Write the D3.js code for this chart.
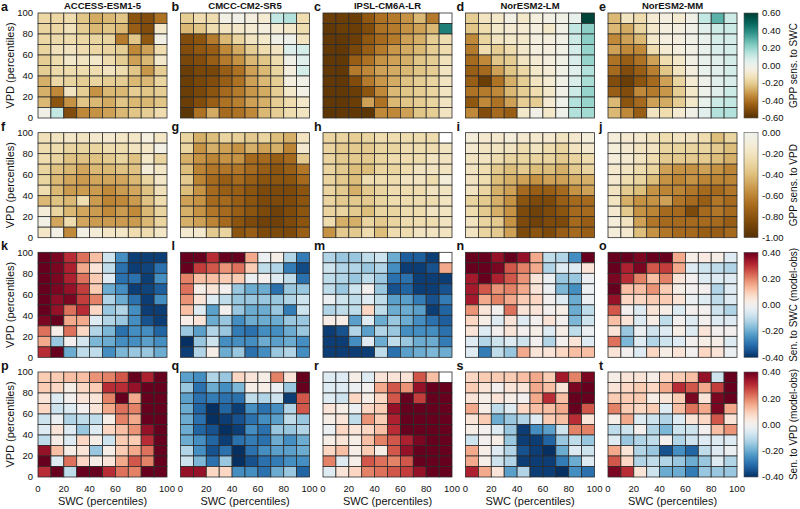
<!DOCTYPE html>
<html>
<head>
<meta charset="utf-8">
<script src="https://d3js.org/d3.v7.min.js"></script>
<style>
  body { margin: 0; background: #fff; }
  text { font-family: "Liberation Sans", Arial, Helvetica, sans-serif; fill: #111; }
</style>
</head>
<body>
<svg id="chart" width="800" height="509"></svg>
<script>
// column titles
var models = ["ACCESS-ESM1-5", "CMCC-CM2-SR5", "IPSL-CM6A-LR", "NorESM2-LM", "NorESM2-MM"];
var panelLetters = [["a", "b", "c", "d", "e"], ["f", "g", "h", "i", "j"],
                    ["k", "l", "m", "n", "o"], ["p", "q", "r", "s", "t"]];
var axisTicks = [0, 20, 40, 60, 80, 100];

// every grid: first row = VPD 90-100 (top), last row = VPD 0-10;
// columns go SWC 0-10 ... 90-100. null = no data
var accessSwc = [
  [-0.17,-0.17,-0.15,-0.22,-0.28,-0.25,-0.22,-0.48,-0.50,-0.40],
  [-0.18,-0.17,-0.13,-0.20,-0.25,-0.22,-0.25,-0.45,-0.50,-0.10],
  [-0.17,-0.16,-0.15,-0.17,-0.18,-0.18,-0.38,-0.22,-0.47,-0.03],
  [-0.18,-0.13,-0.12,-0.15,-0.17,-0.18,-0.20,-0.35,-0.30,-0.15],
  [-0.20,-0.15,-0.10,-0.12,-0.10,-0.15,-0.20,-0.30,-0.25,-0.10],
  [-0.20,-0.16,-0.15,-0.15,-0.15,-0.12,-0.15,-0.22,-0.32,-0.20],
  [-0.27,-0.17,-0.18,-0.20,-0.18,-0.20,-0.20,-0.25,-0.25,-0.18],
  [-0.27,-0.35,-0.12,-0.20,-0.33,-0.25,-0.25,-0.20,-0.22,-0.20],
  [-0.25,-0.48,-0.33,-0.22,-0.25,-0.28,-0.22,-0.25,-0.25,-0.22],
  [-0.02, 0.12,-0.50,-0.35,-0.33,-0.30,-0.25,-0.22,-0.20,-0.15]
];
var cmccSwc = [
  [-0.20,-0.15,-0.15,-0.03,-0.02,-0.05,-0.08, 0.12, 0.15,-0.15],
  [-0.25,-0.22,-0.15,-0.12,-0.10,-0.08,-0.05,-0.08,-0.10,-0.15],
  [-0.50,-0.48,-0.38,-0.25,-0.18,-0.12,-0.10,-0.02, 0.00,-0.12],
  [-0.50,-0.47,-0.45,-0.35,-0.28,-0.20,-0.15,-0.12, 0.06, 0.08],
  [-0.52,-0.50,-0.45,-0.38,-0.33,-0.25,-0.22,-0.15,-0.02, 0.05],
  [-0.55,-0.52,-0.52,-0.45,-0.40,-0.30,-0.25,-0.18,-0.05, 0.08],
  [-0.55,-0.52,-0.50,-0.45,-0.40,-0.30,-0.25,-0.20,-0.05,-0.02],
  [-0.55,-0.52,-0.48,-0.42,-0.38,-0.32,-0.28,-0.20,-0.10,-0.03],
  [-0.55,-0.50,-0.45,-0.40,-0.37,-0.30,-0.27,-0.20,-0.15,-0.10],
  [-0.58,-0.40,-0.28,-0.42,-0.40,-0.35,-0.25,-0.20,-0.15,-0.12]
];
var ipslSwc = [
  [-0.55,-0.55,-0.55,-0.47,-0.40,-0.38,-0.33,-0.25,-0.38, null],
  [-0.57,-0.55,-0.55,-0.50,-0.40,-0.38,-0.33,-0.30,-0.25, 0.42],
  [-0.57,-0.57,-0.55,-0.47,-0.42,-0.38,-0.30,-0.27,-0.20,-0.15],
  [-0.57,-0.57,-0.52,-0.45,-0.38,-0.32,-0.28,-0.25,-0.20,-0.15],
  [-0.57,-0.57,-0.45,-0.40,-0.33,-0.30,-0.27,-0.22,-0.20,-0.13],
  [-0.57,-0.57,-0.38,-0.35,-0.30,-0.28,-0.25,-0.22,-0.20,-0.12],
  [-0.57,-0.57,-0.50,-0.38,-0.32,-0.28,-0.23,-0.20,-0.18,-0.12],
  [-0.57,-0.57,-0.55,-0.48,-0.35,-0.25,-0.22,-0.20,-0.18,-0.12],
  [-0.57,-0.57,-0.55,-0.30,-0.40,-0.25,-0.22,-0.20,-0.18,-0.12],
  [-0.58,-0.57,-0.57,-0.58,-0.35,-0.35,-0.30,-0.22,-0.20,-0.12]
];
var norlmSwc = [
  [-0.20,-0.12,-0.10,-0.03,-0.10,-0.05,-0.03,-0.02, 0.02, 0.58],
  [-0.22,-0.15,-0.10,-0.08,-0.08,-0.05,-0.10,-0.02, 0.12, 0.22],
  [-0.35,-0.18,-0.12,-0.10,-0.10,-0.05,-0.05,-0.02, 0.10, 0.22],
  [-0.38,-0.15,-0.20,-0.15,-0.10,-0.05,-0.05,-0.02, 0.08, 0.20],
  [-0.42,-0.35,-0.22,-0.20,-0.12,-0.08,-0.05,-0.02, 0.07, 0.20],
  [-0.45,-0.42,-0.30,-0.22,-0.17,-0.10,-0.07,-0.02, 0.05, 0.15],
  [-0.45,-0.55,-0.40,-0.27,-0.20,-0.12,-0.08,-0.02, 0.07, 0.17],
  [-0.40,-0.38,-0.35,-0.25,-0.20,-0.15,-0.10,-0.02, 0.10, 0.20],
  [-0.47,-0.35,-0.40,-0.30,-0.20,-0.20,-0.08, 0.00, 0.15, 0.20],
  [-0.35,-0.50,-0.42,-0.45,-0.10,-0.02,-0.10, 0.00, 0.15, 0.18]
];
var normmSwc = [
  [-0.25,-0.12,-0.15,-0.08,-0.05,-0.08,-0.02, 0.12, 0.30, 0.10],
  [-0.25,-0.28,-0.18,-0.10,-0.05,-0.05,-0.02, 0.05, 0.10, 0.10],
  [-0.35,-0.30,-0.25,-0.10,-0.05,-0.05,-0.02, 0.02, 0.08, 0.08],
  [-0.30,-0.35,-0.35,-0.15,-0.08,-0.05,-0.03, 0.02, 0.07, 0.08],
  [-0.40,-0.45,-0.40,-0.30,-0.15,-0.10,-0.03, 0.02, 0.05, 0.08],
  [-0.42,-0.50,-0.45,-0.37,-0.22,-0.12,-0.05, 0.02, 0.05, 0.08],
  [-0.50,-0.55,-0.48,-0.42,-0.30,-0.18,-0.08, 0.00, 0.05, 0.07],
  [-0.45,-0.50,-0.35,-0.38,-0.32,-0.20,-0.10, 0.00, 0.05, 0.10],
  [-0.25,-0.48,-0.42,-0.30,-0.28,-0.20,-0.10, 0.02, 0.10, 0.12],
  [-0.25,-0.35,-0.45,-0.12,-0.15,-0.08,-0.02, 0.05, 0.15, 0.15]
];

var accessVpd = [
  [-0.22,-0.20,-0.17,-0.20,-0.15,-0.15,-0.17,-0.17,-0.08,-0.17],
  [-0.25,-0.25,-0.30,-0.30,-0.30,-0.25,-0.25,-0.20,-0.17,-0.05],
  [-0.25,-0.30,-0.38,-0.38,-0.38,-0.35,-0.30,-0.38,-0.17,-0.30],
  [-0.30,-0.38,-0.42,-0.48,-0.42,-0.42,-0.38,-0.38,-0.12,-0.17],
  [-0.30,-0.42,-0.48,-0.52,-0.48,-0.48,-0.48,-0.42,-0.30,-0.17],
  [-0.25,-0.42,-0.52,-0.52,-0.52,-0.58,-0.52,-0.48,-0.38,-0.22],
  [-0.42,-0.38,-0.42,-0.25,-0.52,-0.60,-0.58,-0.52,-0.38,-0.25],
  [-0.12,-0.30,-0.42,-0.48,-0.52,-0.58,-0.52,-0.58,-0.42,-0.30],
  [-0.05,-0.48,-0.25,-0.48,-0.52,-0.52,-0.52,-0.52,-0.42,-0.30],
  [-0.17,-0.05,-0.58,-0.05,-0.12,-0.17,-0.17,-0.25,-0.25,-0.17]
];
var cmccVpd = [
  [-0.30,-0.45,-0.40,-0.30,-0.32,-0.35,-0.30,-0.40,-0.45,-0.20],
  [-0.30,-0.55,-0.45,-0.50,-0.55,-0.45,-0.50,-0.45,-0.60,-0.15],
  [-0.45,-0.55,-0.60,-0.55,-0.55,-0.70,-0.70,-0.75,-0.70,-0.35],
  [-0.40,-0.60,-0.65,-0.65,-0.65,-0.70,-0.75,-0.80,-0.75,-0.65],
  [-0.35,-0.60,-0.70,-0.75,-0.70,-0.75,-0.80,-0.80,-0.80,-0.70],
  [-0.40,-0.55,-0.70,-0.75,-0.75,-0.80,-0.85,-0.85,-0.85,-0.80],
  [-0.50,-0.55,-0.70,-0.70,-0.75,-0.80,-0.85,-0.85,-0.85,-0.80],
  [-0.45,-0.55,-0.65,-0.70,-0.75,-0.80,-0.85,-0.90,-0.85,-0.80],
  [-0.45,-0.50,-0.60,-0.70,-0.80,-0.85,-0.90,-0.90,-0.85,-0.80],
  [-0.15,-0.15,-0.35,-0.30,-0.80,-0.75,-0.85,-0.85,-0.85,-0.75]
];
var ipslVpd = [
  [-0.30,-0.30,-0.33,-0.30,-0.25,-0.25,-0.25,-0.25,-0.25, null],
  [-0.30,-0.35,-0.35,-0.35,-0.30,-0.30,-0.25,-0.25,-0.25,-0.20],
  [-0.30,-0.35,-0.35,-0.35,-0.30,-0.25,-0.25,-0.25,-0.20,-0.20],
  [-0.30,-0.35,-0.40,-0.40,-0.30,-0.30,-0.25,-0.20,-0.20,-0.20],
  [-0.30,-0.35,-0.40,-0.25,-0.25,-0.25,-0.20,-0.20,-0.25,-0.10],
  [-0.30,-0.35,-0.45,-0.35,-0.30,-0.25,-0.25,-0.25,-0.20,-0.20],
  [-0.30,-0.35,-0.35,-0.35,-0.30,-0.25,-0.25,-0.25,-0.25,-0.20],
  [-0.30,-0.30,-0.35,-0.40,-0.30,-0.30,-0.25,-0.25,-0.20,-0.20],
  [-0.25,-0.45,-0.45,-0.30,-0.35,-0.30,-0.25,-0.25,-0.25,-0.20],
  [-0.55,-0.35,-0.35,-0.25,-0.40,-0.25,-0.25,-0.20,-0.20,-0.20]
];
var norlmVpd = [
  [-0.10,-0.15,-0.15,-0.10,-0.15,-0.15,-0.15,-0.20,-0.15,-0.10],
  [-0.15,-0.20,-0.20,-0.20,-0.25,-0.20,-0.25,-0.30,-0.20,-0.15],
  [-0.20,-0.20,-0.25,-0.30,-0.30,-0.30,-0.30,-0.35,-0.30,-0.25],
  [-0.20,-0.25,-0.35,-0.40,-0.35,-0.40,-0.40,-0.45,-0.35,-0.30],
  [-0.20,-0.25,-0.40,-0.45,-0.50,-0.55,-0.50,-0.50,-0.45,-0.45],
  [-0.20,-0.30,-0.45,-0.50,-0.70,-0.75,-0.75,-0.70,-0.55,-0.50],
  [-0.30,-0.35,-0.45,-0.55,-0.80,-0.85,-0.85,-0.75,-0.70,-0.70],
  [-0.25,-0.35,-0.45,-0.55,-0.85,-0.90,-0.85,-0.80,-0.70,-0.70],
  [-0.20,-0.30,-0.35,-0.55,-0.85,-0.90,-0.85,-0.85,-0.70,-0.75],
  [-0.20,-0.30,-0.35,-0.50,-0.85,-0.80,-0.85,-0.75,-0.70,-0.75]
];
var normmVpd = [
  [-0.10,-0.15,-0.15,-0.20,-0.25,-0.20,-0.20,-0.25,-0.40,-0.30],
  [-0.10,-0.15,-0.20,-0.20,-0.30,-0.30,-0.30,-0.30,-0.35,-0.40],
  [-0.10,-0.15,-0.20,-0.25,-0.35,-0.35,-0.35,-0.35,-0.40,-0.45],
  [-0.15,-0.20,-0.25,-0.30,-0.50,-0.55,-0.55,-0.50,-0.55,-0.60],
  [-0.15,-0.25,-0.30,-0.40,-0.55,-0.60,-0.55,-0.60,-0.60,-0.60],
  [-0.20,-0.35,-0.40,-0.55,-0.60,-0.60,-0.65,-0.70,-0.70,-0.65],
  [-0.20,-0.45,-0.55,-0.55,-0.50,-0.65,-0.70,-0.75,-0.65,-0.70],
  [-0.15,-0.35,-0.55,-0.60,-0.70,-0.70,-0.85,-0.70,-0.65,-0.70],
  [-0.10,-0.20,-0.50,-0.65,-0.70,-0.70,-0.70,-0.70,-0.70,-0.75],
  [-0.10,-0.15,-0.40,-0.55,-0.65,-0.70,-0.70,-0.75,-0.75,-0.70]
];

var accessSwcDiff = [
  [ 0.40, 0.38, 0.30, 0.22, 0.12,-0.08,-0.25,-0.38,-0.38,-0.38],
  [ 0.40, 0.38, 0.32, 0.15, 0.05,-0.10,-0.30,-0.38,-0.37,-0.30],
  [ 0.40, 0.38, 0.32, 0.22, 0.10,-0.05,-0.30,-0.30,-0.38,-0.25],
  [ 0.40, 0.38, 0.35, 0.28, 0.10,-0.20,-0.25,-0.38,-0.37,-0.33],
  [ 0.40, 0.36, 0.38, 0.28, 0.20,-0.12,-0.20,-0.30,-0.38,-0.25],
  [ 0.40, 0.35, 0.22, 0.30, 0.08,-0.15,-0.12,-0.25,-0.38,-0.38],
  [ 0.38, 0.40, 0.15, 0.15,-0.05,-0.12,-0.15,-0.25,-0.35,-0.38],
  [ 0.22, 0.02, 0.22, 0.08,-0.12,-0.18,-0.30,-0.25,-0.25,-0.32],
  [ 0.15,-0.15, 0.00,-0.07,-0.18,-0.20,-0.25,-0.25,-0.22,-0.25],
  [ 0.30, 0.40,-0.20,-0.10,-0.10,-0.25,-0.18,-0.15,-0.15,-0.20]
];
var cmccSwcDiff = [
  [ 0.40, 0.40, 0.30, 0.40, 0.40, 0.15,-0.02, 0.02,-0.12,-0.28],
  [ 0.40, 0.28, 0.25, 0.18, 0.22, 0.10,-0.10,-0.12,-0.28,-0.36],
  [ 0.20, 0.12, 0.12, 0.10, 0.10,-0.02, 0.00,-0.05,-0.10,-0.30],
  [ 0.22, 0.02, 0.05, 0.00,-0.15,-0.20,-0.20,-0.30,-0.15,-0.15],
  [ 0.18, 0.05,-0.05,-0.10,-0.15,-0.15,-0.15,-0.15,-0.12,-0.08],
  [ 0.12,-0.05,-0.22, 0.00,-0.15,-0.20,-0.20,-0.15,-0.28,-0.08],
  [ 0.02, 0.05,-0.20,-0.15,-0.25,-0.20,-0.20,-0.20,-0.15,-0.15],
  [-0.15,-0.22,-0.12,-0.15,-0.28,-0.30,-0.25,-0.25,-0.20,-0.15],
  [-0.40,-0.15,-0.08,-0.25,-0.25,-0.25,-0.20,-0.22,-0.20,-0.25],
  [-0.38,-0.12, 0.02,-0.20,-0.15,-0.30,-0.25,-0.15,-0.12,-0.25]
];
var ipslSwcDiff = [
  [-0.12,-0.15,-0.15,-0.10,-0.08,-0.20,-0.33,-0.33,-0.38, null],
  [-0.08,-0.12,-0.12,-0.15,-0.12,-0.25,-0.38,-0.38,-0.35, 0.15],
  [-0.10,-0.12,-0.15,-0.10,-0.15,-0.30,-0.30,-0.38,-0.38,-0.38],
  [-0.10,-0.15,-0.08, 0.00,-0.15,-0.35,-0.32,-0.38,-0.38,-0.35],
  [-0.02,-0.08,-0.10,-0.05,-0.10,-0.22,-0.22,-0.28,-0.35,-0.28],
  [-0.12,-0.10,-0.10, 0.08,-0.10,-0.20,-0.20,-0.22,-0.38,-0.32],
  [ 0.02, 0.02,-0.22,-0.05,-0.20,-0.15,-0.20,-0.25,-0.30,-0.33],
  [-0.38,-0.35,-0.12,-0.22,-0.12,-0.15,-0.25,-0.25,-0.25,-0.30],
  [-0.38,-0.38,-0.25,-0.05,-0.20,-0.10,-0.15,-0.20,-0.20,-0.28],
  [-0.38,-0.38,-0.38,-0.38,-0.10,-0.30,-0.22,-0.20,-0.18,-0.20]
];
var norlmSwcDiff = [
  [ 0.40, 0.40, 0.35, 0.40, 0.35, 0.15,-0.10,-0.12,-0.25, 0.40],
  [ 0.40, 0.40, 0.38, 0.25, 0.20, 0.15,-0.12,-0.05,-0.05, 0.05],
  [ 0.33, 0.40, 0.32, 0.25, 0.18, 0.05,-0.02,-0.15,-0.15,-0.02],
  [ 0.33, 0.25, 0.18, 0.20, 0.15, 0.05,-0.02,-0.18,-0.25,-0.02],
  [ 0.33, 0.15, 0.20, 0.15, 0.10, 0.08, 0.00,-0.05,-0.20,-0.02],
  [ 0.18, 0.05, 0.00, 0.22, 0.05, 0.05, 0.00, 0.02,-0.20,-0.10],
  [ 0.08, 0.02,-0.05, 0.05,-0.05, 0.00, 0.05, 0.00,-0.18,-0.08],
  [ 0.05,-0.05, 0.00, 0.05, 0.00, 0.02,-0.05, 0.02,-0.10,-0.02],
  [-0.05,-0.12,-0.08,-0.05,-0.08, 0.00,-0.12, 0.00, 0.05,-0.05],
  [-0.05,-0.28,-0.10,-0.15, 0.15, 0.05, 0.05, 0.08, 0.12, 0.12]
];
var normmSwcDiff = [
  [ 0.40, 0.40, 0.38, 0.40, 0.40, 0.15, 0.02, 0.03, 0.02,-0.05],
  [ 0.40, 0.32, 0.38, 0.25, 0.28, 0.15,-0.05,-0.08,-0.10,-0.12],
  [ 0.38, 0.30, 0.20, 0.12, 0.20, 0.05, 0.00,-0.05,-0.05,-0.05],
  [ 0.40, 0.12, 0.12, 0.18, 0.10, 0.02, 0.00, 0.00,-0.12,-0.05],
  [ 0.35, 0.08, 0.08, 0.10, 0.10, 0.05,-0.02,-0.05,-0.10,-0.05],
  [ 0.25, 0.00,-0.05, 0.05, 0.02,-0.05, 0.00, 0.00,-0.08,-0.12],
  [ 0.12, 0.05,-0.05, 0.02,-0.10, 0.00,-0.05, 0.00,-0.05,-0.05],
  [ 0.05,-0.15,-0.02,-0.08,-0.05, 0.02,-0.05, 0.05, 0.00, 0.00],
  [ 0.22,-0.18,-0.05,-0.12,-0.08,-0.05, 0.00, 0.02, 0.02,-0.05],
  [ 0.05, 0.00,-0.05, 0.08, 0.02, 0.05, 0.00, 0.08, 0.05,-0.02]
];

var accessVpdDiff = [
  [ 0.10, 0.10, 0.12, 0.12, 0.18, 0.20, 0.25, 0.40, 0.32, 0.40],
  [ 0.10, 0.08, 0.02, 0.08, 0.10, 0.30, 0.30, 0.35, 0.40, 0.40],
  [ 0.05,-0.05, 0.00, 0.05, 0.05, 0.20, 0.40, 0.15, 0.40, 0.40],
  [ 0.08,-0.08,-0.05, 0.00, 0.05, 0.15, 0.22, 0.20, 0.40, 0.40],
  [-0.08,-0.02,-0.12,-0.10,-0.10, 0.02, 0.20, 0.15, 0.40, 0.40],
  [-0.05, 0.05,-0.05,-0.15,-0.05, 0.08, 0.12, 0.18, 0.35, 0.40],
  [-0.10, 0.02,-0.05, 0.08, 0.02,-0.08, 0.10, 0.10, 0.30, 0.40],
  [ 0.35, 0.12, 0.02, 0.05,-0.15, 0.02, 0.10, 0.15, 0.22, 0.40],
  [ 0.40,-0.05, 0.22, 0.08, 0.02, 0.05, 0.15, 0.25, 0.20, 0.40],
  [ 0.30, 0.40,-0.10, 0.40, 0.40, 0.30, 0.22, 0.20, 0.40, 0.40]
];
var cmccVpdDiff = [
  [-0.22,-0.25,-0.12,-0.15, 0.08, 0.05, 0.02, 0.20, 0.05, 0.40],
  [-0.15,-0.30,-0.20,-0.25,-0.18, 0.02, 0.02,-0.02,-0.15, 0.40],
  [-0.22,-0.30,-0.28,-0.30,-0.30,-0.10,-0.12,-0.08,-0.38, 0.25],
  [-0.20,-0.32,-0.40,-0.32,-0.38,-0.25,-0.30,-0.25,-0.12, 0.25],
  [-0.20,-0.30,-0.40,-0.38,-0.35,-0.30,-0.25,-0.22,-0.10,-0.15],
  [-0.20,-0.32,-0.35,-0.40,-0.38,-0.25,-0.30,-0.15,-0.15,-0.12],
  [-0.20,-0.25,-0.32,-0.38,-0.30,-0.28,-0.30,-0.20,-0.25,-0.20],
  [-0.12,-0.25,-0.35,-0.30,-0.40,-0.30,-0.25,-0.22,-0.22,-0.20],
  [-0.08,-0.18,-0.30,-0.15,-0.40,-0.35,-0.30,-0.28,-0.25,-0.25],
  [ 0.35, 0.35, 0.08, 0.08,-0.25,-0.25,-0.30,-0.20,-0.15,-0.32]
];
var ipslVpdDiff = [
  [-0.05,-0.05, 0.02,-0.05, 0.05, 0.05, 0.05, 0.25, 0.12, null],
  [-0.05,-0.05,-0.02, 0.00, 0.15, 0.25, 0.18, 0.35, 0.40, 0.40],
  [-0.05,-0.08, 0.08, 0.02, 0.08, 0.25, 0.40, 0.28, 0.40, 0.40],
  [ 0.05, 0.02,-0.02, 0.08, 0.10, 0.35, 0.40, 0.40, 0.40, 0.40],
  [ 0.02, 0.05,-0.10, 0.18, 0.10, 0.32, 0.40, 0.40, 0.40, 0.40],
  [-0.02, 0.08, 0.05, 0.08, 0.12, 0.30, 0.40, 0.40, 0.40, 0.40],
  [ 0.02, 0.05, 0.02, 0.12, 0.20, 0.25, 0.32, 0.38, 0.40, 0.40],
  [ 0.08, 0.12, 0.02, 0.10, 0.02, 0.25, 0.35, 0.40, 0.40, 0.40],
  [ 0.20,-0.05, 0.02, 0.25, 0.22, 0.20, 0.25, 0.40, 0.40, 0.40],
  [-0.05, 0.05, 0.08, 0.20, 0.22, 0.25, 0.28, 0.35, 0.40, 0.40]
];
var norlmVpdDiff = [
  [ 0.08, 0.10, 0.10, 0.10, 0.12, 0.15, 0.10, 0.33, 0.20, 0.38],
  [ 0.10, 0.05, 0.00, 0.05, 0.05, 0.15, 0.12, 0.05, 0.38, 0.40],
  [ 0.05, 0.02, 0.05, 0.02, 0.00, 0.15, 0.30, 0.12, 0.40, 0.40],
  [ 0.15, 0.02,-0.10,-0.05, 0.08, 0.12, 0.12, 0.15, 0.40, 0.25],
  [ 0.05, 0.10,-0.20,-0.15,-0.12,-0.05, 0.10, 0.12, 0.30, 0.05],
  [ 0.02, 0.00,-0.05,-0.15,-0.38,-0.25,-0.22,-0.08, 0.20, 0.20],
  [-0.08, 0.00, 0.02,-0.15,-0.38,-0.38,-0.32,-0.15,-0.10,-0.15],
  [ 0.15, 0.02,-0.05,-0.12,-0.35,-0.38,-0.40,-0.20,-0.05,-0.08],
  [ 0.15, 0.02,-0.08,-0.12,-0.38,-0.38,-0.38,-0.28,-0.20,-0.05],
  [ 0.32, 0.15, 0.05,-0.22,-0.12,-0.38,-0.38,-0.40,-0.25,-0.30]
];
var normmVpdDiff = [
  [ 0.02, 0.05, 0.05, 0.02, 0.08, 0.10, 0.12, 0.35,-0.08, 0.40],
  [ 0.05, 0.08, 0.10, 0.08, 0.15, 0.30, 0.25, 0.15, 0.28, 0.40],
  [ 0.10, 0.10, 0.10, 0.02, 0.05, 0.10, 0.38, 0.05, 0.38, 0.40],
  [ 0.20, 0.10, 0.08, 0.10,-0.05, 0.12, 0.22, 0.15, 0.38, 0.15],
  [ 0.02, 0.15,-0.05,-0.08,-0.12,-0.05, 0.05, 0.08, 0.25, 0.05],
  [-0.10,-0.08, 0.00,-0.12,-0.18,-0.08,-0.08, 0.00, 0.12, 0.18],
  [-0.05,-0.15,-0.12,-0.10, 0.00,-0.12,-0.08,-0.05,-0.05,-0.05],
  [ 0.15, 0.05,-0.12,-0.15,-0.35,-0.25,-0.32,-0.10,-0.05,-0.02],
  [ 0.25, 0.08,-0.12,-0.10,-0.12,-0.15,-0.20,-0.15,-0.05,-0.12],
  [ 0.38, 0.30, 0.05,-0.08,-0.20,-0.20,-0.28,-0.15,-0.15,-0.15]
];

// colour bar settings per row
var barTitles = ["GPP sens. to SWC", "GPP sens. to VPD", "Sen. to SWC (model-obs)", "Sen. to VPD (model-obs)"];
var barDomains = [[-0.6, 0.6], [-1, 0], [-0.4, 0.4], [-0.4, 0.4]];
var barTicks = [
  [0.6, 0.4, 0.2, 0, -0.2, -0.4, -0.6],
  [0, -0.2, -0.4, -0.6, -0.8, -1],
  [0.4, 0.2, 0, -0.2, -0.4],
  [0.4, 0.2, 0, -0.2, -0.4]
];

var grids = [
  [accessSwc, cmccSwc, ipslSwc, norlmSwc, normmSwc],
  [accessVpd, cmccVpd, ipslVpd, norlmVpd, normmVpd],
  [accessSwcDiff, cmccSwcDiff, ipslSwcDiff, norlmSwcDiff, normmSwcDiff],
  [accessVpdDiff, cmccVpdDiff, ipslVpdDiff, norlmVpdDiff, normmVpdDiff]
];

var colorScales = [
  d3.scaleSequential(d3.interpolateBrBG).domain([-0.6, 0.6]).clamp(true),
  d3.scaleSequential(function (t) { return d3.interpolateBrBG(t / 2); }).domain([-1, 0]).clamp(true),
  d3.scaleSequential(d3.interpolateRdBu).domain([0.4, -0.4]).clamp(true),
  d3.scaleSequential(d3.interpolateRdBu).domain([0.4, -0.4]).clamp(true)
];

var svg = d3.select("#chart");
var defs = svg.append("defs");

// layout
var panelW = 129, panelH = 105;
var colX = d3.scaleLinear().domain([0, 4]).range([38, 608]);
var rowY = d3.scaleLinear().domain([0, 3]).range([13, 372]);
var barX = 744, barW = 14;

grids.forEach(function (rowGrids, r) {
  var top = rowY(r);
  var color = colorScales[r];
  var y = d3.scaleLinear().domain([0, 100]).range([top + panelH, top]);

  rowGrids.forEach(function (grid, c) {
    var left = colX(c);
    var x = d3.scaleLinear().domain([0, 100]).range([left, left + panelW]);
    var g = svg.append("g");

    var cells = [];
    grid.forEach(function (rowVals, i) {
      rowVals.forEach(function (v, j) {
        cells.push({ swc: j * 10, vpd: (9 - i) * 10, v: v });
      });
    });

    g.selectAll("rect")
      .data(cells)
      .enter().append("rect")
      .attr("x", function (d) { return x(d.swc); })
      .attr("y", function (d) { return y(d.vpd + 10); })
      .attr("width", function (d) { return x(d.swc + 10) - x(d.swc); })
      .attr("height", function (d) { return y(d.vpd) - y(d.vpd + 10); })
      .attr("fill", function (d) { return d.v === null ? "#ffffff" : color(d.v); })
      .attr("stroke", "#2b2b2b")
      .attr("stroke-width", 0.8);

    // panel letter
    svg.append("text")
      .attr("x", c === 0 ? 1 : left - 9)
      .attr("y", top - 2)
      .style("font-size", "12.5px")
      .style("font-weight", "bold")
      .text(panelLetters[r][c]);

    if (r === 0) {
      svg.append("text")
        .attr("x", left + panelW / 2)
        .attr("y", top - 4)
        .attr("text-anchor", "middle")
        .style("font-size", "9.5px")
        .style("font-weight", "bold")
        .text(models[c]);
    }

    if (c === 0) {
      svg.append("g").selectAll("text")
        .data(axisTicks)
        .enter().append("text")
        .attr("x", left - 5)
        .attr("y", function (d) { return y(d); })
        .attr("dy", "0.35em")
        .attr("text-anchor", "end")
        .style("font-size", "9.5px")
        .text(function (d) { return d; });

      svg.append("text")
        .attr("transform", "translate(14," + (top + panelH / 2) + ") rotate(-90)")
        .attr("text-anchor", "middle")
        .style("font-size", "11px")
        .text("VPD (percentiles)");
    }

    if (r === 3) {
      svg.append("g").selectAll("text")
        .data(axisTicks)
        .enter().append("text")
        .attr("x", function (d) { return x(d); })
        .attr("y", top + panelH + 15)
        .attr("text-anchor", "middle")
        .style("font-size", "9.5px")
        .text(function (d) { return d; });

      svg.append("text")
        .attr("x", left + panelW / 2)
        .attr("y", top + panelH + 28)
        .attr("text-anchor", "middle")
        .style("font-size", "11px")
        .text("SWC (percentiles)");
    }
  });

  // colour bar
  var dom = barDomains[r];
  var by = d3.scaleLinear().domain(dom).range([top + panelH, top]);
  var gid = "bar" + r;
  var grad = defs.append("linearGradient").attr("id", gid)
    .attr("x1", 0).attr("y1", 0).attr("x2", 0).attr("y2", 1);
  d3.range(0, 41).forEach(function (k) {
    var t = k / 40;
    grad.append("stop")
      .attr("offset", t)
      .attr("stop-color", color(dom[1] - t * (dom[1] - dom[0])));
  });
  svg.append("rect")
    .attr("x", barX).attr("y", top)
    .attr("width", barW).attr("height", panelH)
    .attr("fill", "url(#" + gid + ")")
    .attr("stroke", "#555").attr("stroke-width", 0.6);

  svg.append("g").selectAll("text")
    .data(barTicks[r])
    .enter().append("text")
    .attr("x", barX + barW + 4)
    .attr("y", function (d) { return by(d); })
    .attr("dy", "0.35em")
    .style("font-size", "9.5px")
    .text(function (d) { return d.toFixed(2); });

  svg.append("text")
    .attr("transform", "translate(797," + (top + panelH / 2) + ") rotate(-90)")
    .attr("text-anchor", "middle")
    .style("font-size", "10px")
    .text(barTitles[r]);
});
</script>
</body>
</html>
